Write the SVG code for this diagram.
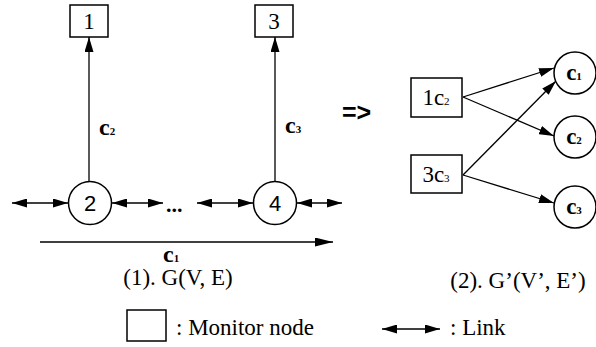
<svg xmlns="http://www.w3.org/2000/svg" width="596" height="347" viewBox="0 0 596 347">
<style>
.n{fill:#fff;stroke:#000;stroke-width:1.5}
.e{fill:none;stroke:#000;stroke-width:1.3}
.ser{font-family:"Liberation Serif","Times New Roman",serif;fill:#000}
.san{font-family:"Liberation Sans",Arial,sans-serif;fill:#000}
.sub{font-size:11px}
</style>
<defs>
<marker id="ah" viewBox="0 0 15 9" refX="15" refY="4.5" markerWidth="15" markerHeight="9" markerUnits="userSpaceOnUse" orient="auto-start-reverse">
<path d="M0,0 L15,4.5 L0,9 z" fill="#000"/>
</marker>
<marker id="ahl" viewBox="0 0 18 9" refX="18" refY="4.5" markerWidth="18" markerHeight="9" markerUnits="userSpaceOnUse" orient="auto">
<path d="M0,0 L18,4.5 L0,9 z" fill="#000"/>
</marker>
</defs>
<rect width="596" height="347" fill="#fff"/>

<g id="connectors">
<line class="e" x1="89" y1="181" x2="89" y2="37" marker-end="url(#ah)"/>
<line class="e" x1="275" y1="181" x2="275" y2="37" marker-end="url(#ah)"/>
<line class="e" x1="12" y1="203" x2="68" y2="203" marker-start="url(#ah)" marker-end="url(#ah)"/>
<line class="e" x1="112" y1="203" x2="163" y2="203" marker-start="url(#ah)" marker-end="url(#ah)"/>
<line class="e" x1="197" y1="203" x2="253" y2="203" marker-start="url(#ah)" marker-end="url(#ah)"/>
<line class="e" x1="297" y1="203" x2="342" y2="203" marker-start="url(#ah)" marker-end="url(#ah)"/>
<line class="e" x1="40" y1="242" x2="333" y2="242" marker-end="url(#ahl)"/>
<line class="e" x1="463" y1="97" x2="554" y2="68" marker-end="url(#ah)"/>
<line class="e" x1="463" y1="97" x2="554" y2="136" marker-end="url(#ah)"/>
<line class="e" x1="463" y1="175" x2="556" y2="81" marker-end="url(#ah)"/>
<line class="e" x1="463" y1="175" x2="554" y2="203" marker-end="url(#ah)"/>
<line class="e" x1="382" y1="329" x2="440" y2="329" marker-start="url(#ah)" marker-end="url(#ah)"/>
</g>

<g id="edge-labels">
<text class="ser" font-family="Liberation Serif, serif" x="99" y="135" font-size="24" font-weight="bold">c<tspan class="sub">2</tspan></text>
<text class="ser" font-family="Liberation Serif, serif" x="285" y="133" font-size="24" font-weight="bold">c<tspan class="sub">3</tspan></text>
<text class="ser" font-family="Liberation Serif, serif" x="163" y="262" font-size="24" font-weight="bold">c<tspan class="sub">1</tspan></text>
<text class="ser" font-family="Liberation Serif, serif" x="166" y="212" font-size="22" font-weight="bold">...</text>
<text class="san" font-family="Liberation Sans, sans-serif" x="342" y="121" font-size="25" font-weight="bold">=&gt;</text>
</g>

<g id="node-1">
<rect class="n" x="70" y="5" width="38" height="32"/>
<text class="ser" font-family="Liberation Serif, serif" x="89" y="29" font-size="23" text-anchor="middle">1</text>
</g>
<g id="node-3">
<rect class="n" x="255" y="5" width="38" height="32"/>
<text class="ser" font-family="Liberation Serif, serif" x="274" y="29" font-size="23" text-anchor="middle">3</text>
</g>
<g id="node-2">
<circle class="n" cx="90" cy="203" r="21.5"/>
<text class="san" font-family="Liberation Sans, sans-serif" x="90" y="211" font-size="22" text-anchor="middle">2</text>
</g>
<g id="node-4">
<circle class="n" cx="275" cy="203" r="21.5"/>
<text class="san" font-family="Liberation Sans, sans-serif" x="275" y="211" font-size="22" text-anchor="middle">4</text>
</g>

<g id="node-1c2">
<rect class="n" x="411" y="78" width="51" height="39"/>
<text class="ser" font-family="Liberation Serif, serif" x="436" y="105" font-size="23" text-anchor="middle">1c<tspan class="sub">2</tspan></text>
</g>
<g id="node-3c3">
<rect class="n" x="411" y="155" width="51" height="38"/>
<text class="ser" font-family="Liberation Serif, serif" x="436" y="182" font-size="23" text-anchor="middle">3c<tspan class="sub">3</tspan></text>
</g>
<g id="node-c1">
<circle class="n" cx="575" cy="73" r="21"/>
<text class="ser" font-family="Liberation Serif, serif" x="574" y="80" font-size="23" font-weight="bold" text-anchor="middle">c<tspan class="sub">1</tspan></text>
</g>
<g id="node-c2">
<circle class="n" cx="575" cy="137" r="21"/>
<text class="ser" font-family="Liberation Serif, serif" x="574" y="144" font-size="23" font-weight="bold" text-anchor="middle">c<tspan class="sub">2</tspan></text>
</g>
<g id="node-c3">
<circle class="n" cx="575" cy="207" r="21"/>
<text class="ser" font-family="Liberation Serif, serif" x="574" y="214" font-size="23" font-weight="bold" text-anchor="middle">c<tspan class="sub">3</tspan></text>
</g>

<g id="captions">
<text class="ser" font-family="Liberation Serif, serif" x="178" y="285" font-size="23" text-anchor="middle">(1). G(V, E)</text>
<text class="ser" font-family="Liberation Serif, serif" x="518" y="288" font-size="23" text-anchor="middle">(2). G’(V’, E’)</text>
</g>

<g id="legend">
<rect class="n" x="127" y="310" width="39" height="31"/>
<text class="ser" font-family="Liberation Serif, serif" x="176" y="335" font-size="23">: Monitor node</text>
<text class="ser" font-family="Liberation Serif, serif" x="450" y="335" font-size="23">: Link</text>
</g>
</svg>
